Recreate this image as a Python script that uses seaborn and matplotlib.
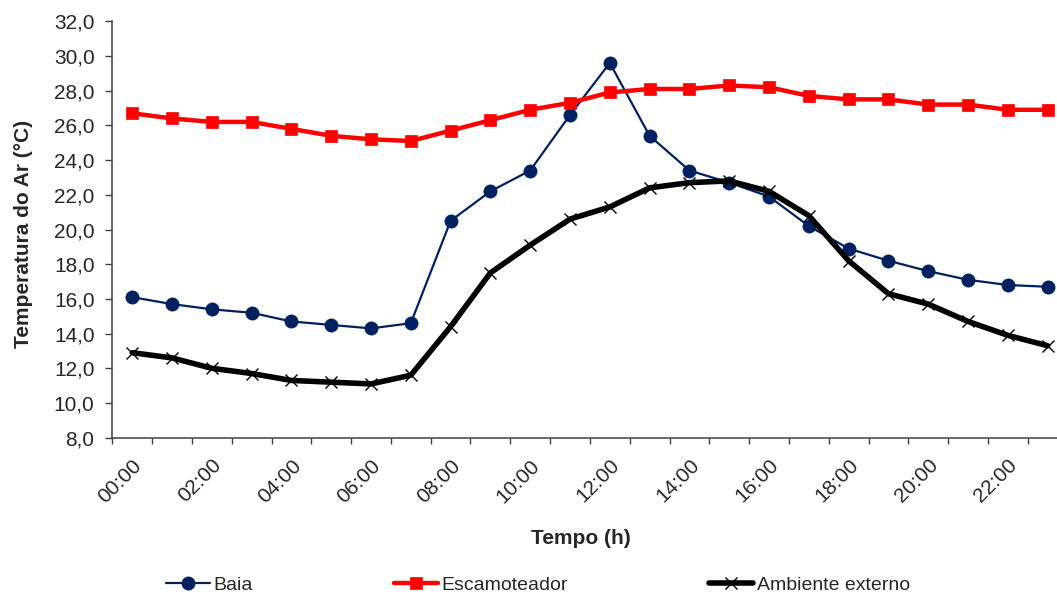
import matplotlib
matplotlib.use("Agg")
import matplotlib.pyplot as plt
import matplotlib.ticker as mticker
import seaborn as sns

# Hourly readings (hour of day)
hours = ["00:00", "01:00", "02:00", "03:00", "04:00", "05:00", "06:00", "07:00",
         "08:00", "09:00", "10:00", "11:00", "12:00", "13:00", "14:00", "15:00",
         "16:00", "17:00", "18:00", "19:00", "20:00", "21:00", "22:00", "23:00"]

baia = [16.1, 15.7, 15.4, 15.2, 14.7, 14.5, 14.3, 14.6, 20.5, 22.2, 23.4, 26.6,
        29.6, 25.4, 23.4, 22.7, 21.9, 20.2, 18.9, 18.2, 17.6, 17.1, 16.8, 16.7]

escamoteador = [26.7, 26.4, 26.2, 26.2, 25.8, 25.4, 25.2, 25.1, 25.7, 26.3, 26.9, 27.3,
                27.9, 28.1, 28.1, 28.3, 28.2, 27.7, 27.5, 27.5, 27.2, 27.2, 26.9, 26.9]

ambiente = [12.9, 12.6, 12.0, 11.7, 11.3, 11.2, 11.1, 11.6, 14.4, 17.5, 19.1, 20.6,
            21.3, 22.4, 22.7, 22.8, 22.2, 20.8, 18.2, 16.3, 15.7, 14.7, 13.9, 13.3]

series_names = ["Baia", "Escamoteador", "Ambiente externo"]
y_ticks = [8, 10, 12, 14, 16, 18, 20, 22, 24, 26, 28, 30, 32]

sns.set_style("white")
plt.rcParams["font.family"] = ["Liberation Sans", "DejaVu Sans"]

fig = plt.figure(figsize=(10.57, 5.97), dpi=100)
ax = fig.add_axes([112.3 / 1057, 159.3 / 597, 955.2 / 1057, 416.4 / 597])

sns.lineplot(x=hours, y=baia, ax=ax, color="#002060", linewidth=1.6,
             marker="o", markersize=9.5, markeredgecolor="#002060",
             markeredgewidth=0.5, label=series_names[0], sort=False)
sns.lineplot(x=hours, y=escamoteador, ax=ax, color="#FF0000", linewidth=3.2,
             marker="s", markersize=9, markeredgecolor="#FF0000",
             markeredgewidth=0.5, label=series_names[1], sort=False)
sns.lineplot(x=hours, y=ambiente, ax=ax, color="black", linewidth=4,
             marker="x", markersize=8, markeredgecolor="black",
             markeredgewidth=1.0, label=series_names[2], sort=False)

ax.set_ylim(y_ticks[0], y_ticks[-1])
ax.set_xlim(-0.5, len(hours) - 0.5)

# y axis
ax.yaxis.set_major_locator(mticker.FixedLocator(y_ticks))
ax.yaxis.set_major_formatter(mticker.FuncFormatter(lambda v, p: f"{v:.1f}".replace(".", ",")))

# x axis: labels every two hours at category centres, tick marks at boundaries
ax.xaxis.set_major_locator(mticker.FixedLocator(range(0, len(hours), 2)))
ax.xaxis.set_major_formatter(mticker.FixedFormatter(hours[::2]))
ax.xaxis.set_minor_locator(mticker.FixedLocator([i - 0.5 for i in range(len(hours) + 1)]))

spine_color = "#404040"
for side in ["top", "right"]:
    ax.spines[side].set_visible(False)
for side in ["left", "bottom"]:
    ax.spines[side].set_color(spine_color)
    ax.spines[side].set_linewidth(1.1)

ax.tick_params(axis="y", which="major", direction="out", length=4.8, width=1.0,
               color=spine_color, pad=8, labelsize=15, left=True)
ax.tick_params(axis="x", which="major", length=0, pad=13, labelsize=15, bottom=True)
ax.tick_params(axis="x", which="minor", direction="out", length=4.5, width=1.0,
               color=spine_color, bottom=True)
plt.setp(ax.get_xticklabels(), rotation=45, ha="right", va="top", rotation_mode="anchor")

ax.set_ylabel("Temperatura do Ar (°C)", fontsize=15, fontweight="bold")
ax.set_xlabel("Tempo (h)", fontsize=15, fontweight="bold")
ax.yaxis.set_label_coords(-0.083, 0.49)
ax.xaxis.set_label_coords(0.491, -0.22)

ax.grid(False)

leg = ax.legend(loc="center left", bbox_to_anchor=(166 / 1057, 12 / 597),
                bbox_transform=fig.transFigure, ncol=3, frameon=False,
                fontsize=14, handlelength=2.25, handletextpad=0.2,
                columnspacing=7.25, borderpad=0, borderaxespad=0)

fig.savefig("out.png", dpi=100)
